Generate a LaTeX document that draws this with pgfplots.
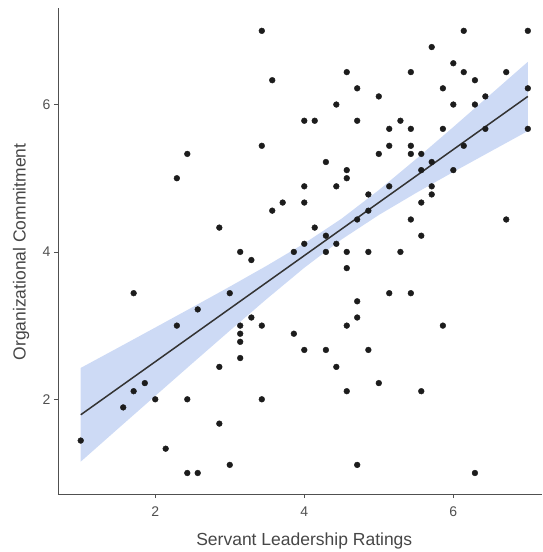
\documentclass[border=0pt]{standalone}
\usepackage{pgfplots}
\pgfplotsset{compat=1.18}
\usepackage{fontspec}
\setmainfont{Liberation Sans}
\definecolor{axgray}{RGB}{80,80,80}
\definecolor{titlegray}{RGB}{70,70,70}
\definecolor{bandblue}{RGB}{164,188,237}
\definecolor{ptcol}{RGB}{28,28,28}
\begin{document}
\begin{tikzpicture}
\begin{axis}[
  scale only axis, width=484pt, height=486pt,
  xmin=0.695, xmax=7.19, ymin=0.715, ymax=7.31,
  axis x line*=bottom, axis y line*=left,
  xtick={2,4,6}, ytick={2,4,6},
  tick align=outside, major tick length=4pt,
  tick style={axgray, line width=0.8pt},
  axis line style={axgray, line width=0.9pt},
  ticklabel style={font=\fontsize{14}{16}\selectfont, text=axgray},
  xticklabel style={yshift=-5pt},
  /pgf/number format/assume math mode=true,
  xlabel={Servant Leadership Ratings},
  ylabel={Organizational Commitment},
  label style={font=\fontsize{17.5}{20}\selectfont, text=titlegray},
  xlabel style={at={(axis cs:4,0.715)}, anchor=center, yshift=-47pt},
  ylabel style={at={(axis cs:0.695,4.0)}, anchor=center, yshift=37pt},
  clip=false,
]
\addplot[only marks, mark=*, mark size=2.9pt, color=ptcol] table {
x y
3.43 7.00
3.57 6.33
4.00 5.78
3.43 5.44
2.43 5.33
2.29 5.00
4.00 4.89
3.71 4.67
4.00 4.67
3.57 4.56
2.86 4.33
3.14 4.00
3.29 3.89
3.86 4.00
4.00 4.11
6.14 7.00
7.00 7.00
5.71 6.78
4.57 6.44
5.43 6.44
6.00 6.56
6.14 6.44
6.29 6.33
6.71 6.44
4.71 6.22
5.00 6.11
5.86 6.22
7.00 6.22
4.43 6.00
6.00 6.00
6.29 6.00
6.43 6.11
4.14 5.78
4.71 5.78
5.29 5.78
5.14 5.67
5.43 5.67
5.86 5.67
6.43 5.67
7.00 5.67
5.14 5.44
5.43 5.44
5.43 5.33
5.57 5.33
6.14 5.44
5.00 5.33
4.29 5.22
4.57 5.11
4.57 5.00
5.71 5.22
5.57 5.11
6.00 5.11
4.43 4.89
5.14 4.89
5.71 4.89
5.71 4.78
4.86 4.78
5.57 4.67
4.86 4.56
4.71 4.44
5.43 4.44
6.71 4.44
4.14 4.33
4.29 4.22
5.57 4.22
4.43 4.11
4.29 4.00
4.57 4.00
4.86 4.00
5.29 4.00
4.57 3.78
1.71 3.44
3.00 3.44
2.57 3.22
2.29 3.00
3.29 3.11
3.14 3.00
3.43 3.00
3.14 2.89
3.14 2.78
3.86 2.89
4.00 2.67
3.14 2.56
2.86 2.44
1.86 2.22
1.71 2.11
1.57 1.89
2.00 2.00
2.43 2.00
3.43 2.00
2.86 1.67
1.00 1.44
2.14 1.33
2.43 1.00
2.57 1.00
3.00 1.11
5.14 3.44
5.43 3.44
4.71 3.33
4.71 3.11
4.57 3.00
5.86 3.00
4.29 2.67
4.86 2.67
4.43 2.44
4.57 2.11
5.00 2.22
5.57 2.11
4.71 1.11
6.29 1.00
};
\addplot[draw=none, fill=bandblue, fill opacity=0.55] coordinates {
(1,2.426) (1.5,2.699) (2,2.974) (2.5,3.250) (3,3.529) (3.5,3.815) (4,4.115)
(4.5,4.451) (5,4.839) (5.5,5.260) (6,5.695) (6.5,6.137) (7,6.580)
(7,5.640) (6.5,5.363) (6,5.085) (5.5,4.800) (5,4.501) (4.5,4.169) (4,3.785)
(3.5,3.365) (3,2.931) (2.5,2.490) (2,2.046) (1.5,1.601) (1,1.154)
} -- cycle;
\addplot[line width=1.5pt, color=black!80] coordinates {(1,1.79) (7,6.11)};
\end{axis}
\pgfresetboundingbox
\path[use as bounding box] (-58pt,-58pt) rectangle (484pt,494pt);
\end{tikzpicture}
\end{document}
